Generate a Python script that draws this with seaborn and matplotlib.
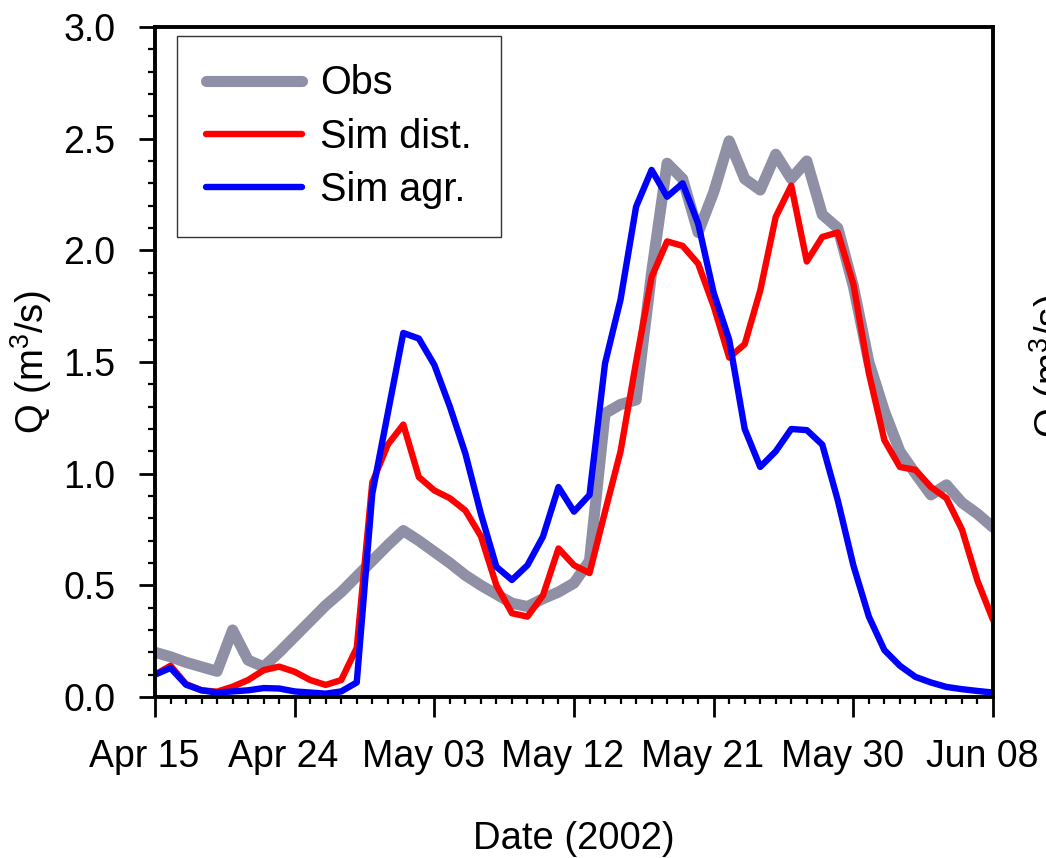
import numpy as np
import pandas as pd
import matplotlib
matplotlib.use("Agg")
import matplotlib.pyplot as plt
import matplotlib.dates as mdates
from matplotlib.ticker import MultipleLocator, FixedLocator, FormatStrFormatter
from matplotlib.transforms import ScaledTranslation
import seaborn as sns

# ---------------- data ----------------
start_date = "2002-04-15"
end_date = "2002-06-08"

obs = [0.20, 0.18, 0.155, 0.135, 0.115, 0.30, 0.165, 0.135, 0.20, 0.27,
       0.34, 0.41, 0.47, 0.54, 0.61, 0.68, 0.745, 0.70, 0.65, 0.60,
       0.545, 0.50, 0.46, 0.42, 0.405, 0.44, 0.47, 0.51, 0.61, 1.27,
       1.31, 1.33, 1.90, 2.39, 2.32, 2.08, 2.26, 2.49, 2.32, 2.27,
       2.43, 2.32, 2.40, 2.16, 2.10, 1.84, 1.50, 1.28, 1.10, 1.00,
       0.905, 0.95, 0.87, 0.82, 0.76]

sim_dist = [0.10, 0.14, 0.058, 0.03, 0.024, 0.046, 0.076, 0.12, 0.136, 0.113,
            0.076, 0.054, 0.076, 0.22, 0.96, 1.13, 1.22, 0.985, 0.925, 0.89,
            0.835, 0.72, 0.50, 0.375, 0.36, 0.455, 0.665, 0.59, 0.555, 0.83,
            1.10, 1.50, 1.88, 2.04, 2.02, 1.94, 1.75, 1.52, 1.58, 1.82,
            2.15, 2.29, 1.95, 2.06, 2.08, 1.85, 1.45, 1.15, 1.03, 1.017,
            0.94, 0.89, 0.75, 0.52, 0.345]

sim_agr = [0.10, 0.13, 0.055, 0.03, 0.02, 0.025, 0.03, 0.04, 0.038, 0.025,
           0.02, 0.015, 0.025, 0.065, 0.91, 1.27, 1.63, 1.605, 1.487, 1.30,
           1.09, 0.82, 0.583, 0.524, 0.59, 0.718, 0.94, 0.83, 0.905, 1.494,
           1.78, 2.195, 2.36, 2.24, 2.30, 2.12, 1.81, 1.60, 1.20, 1.03,
           1.10, 1.20, 1.195, 1.13, 0.88, 0.59, 0.36, 0.21, 0.14, 0.09,
           0.065, 0.045, 0.035, 0.027, 0.02]

series_names = ["Obs", "Sim dist.", "Sim agr."]
tick_dates = ["2002-04-15", "2002-04-24", "2002-05-03", "2002-05-12",
              "2002-05-21", "2002-05-30", "2002-06-08"]
tick_labels = ["Apr 15", "Apr 24", "May 03", "May 12", "May 21", "May 30", "Jun 08"]

# ---------------- style ----------------
sns.set_style("ticks")
plt.rcParams['font.family'] = ['Liberation Sans', 'DejaVu Sans']
plt.rcParams['mathtext.fontset'] = 'custom'
plt.rcParams['mathtext.rm'] = 'Liberation Sans'
plt.rcParams['mathtext.it'] = 'Liberation Sans'
plt.rcParams['text.color'] = 'black'
plt.rcParams['axes.labelcolor'] = 'black'
plt.rcParams['xtick.color'] = 'black'
plt.rcParams['ytick.color'] = 'black'

FS_TICK = 27
FS_LABEL = 27.5
FS_LEG = 28.5
colors = {"Obs": "#8f8fa6", "Sim dist.": "#ff0000", "Sim agr.": "#0000ff"}
widths = {"Obs": 8.0, "Sim dist.": 4.6, "Sim agr.": 4.6}

dates = pd.date_range(start_date, end_date, freq="D")
df = pd.DataFrame({"date": dates, "Obs": obs, "Sim dist.": sim_dist, "Sim agr.": sim_agr})

fig = plt.figure(figsize=(10.46, 8.58), dpi=100)
ax = fig.add_axes([155 / 1046, 1 - 697 / 858, (993 - 155) / 1046, (697 - 27) / 858])

for name in series_names:
    sns.lineplot(data=df, x="date", y=name, ax=ax, color=colors[name],
                 linewidth=widths[name], label=name,
                 solid_capstyle="round", solid_joinstyle="round")

ax.set_xlim(pd.Timestamp(start_date), pd.Timestamp(end_date))
ax.set_ylim(0, 3.0)

ax.xaxis.set_major_locator(FixedLocator(mdates.date2num(pd.to_datetime(tick_dates))))
ax.set_xticklabels(tick_labels)
ax.xaxis.set_minor_locator(mdates.DayLocator())
ax.yaxis.set_major_locator(MultipleLocator(0.5))
ax.yaxis.set_minor_locator(MultipleLocator(0.1))
ax.yaxis.set_major_formatter(FormatStrFormatter("%.1f"))

ax.tick_params(axis="both", which="major", direction="out", width=2.0,
               labelsize=FS_TICK, colors="black")
ax.tick_params(axis="x", which="major", length=14.5, pad=16)
ax.tick_params(axis="x", which="minor", direction="out", length=5, width=1.6)
ax.tick_params(axis="y", which="major", length=11.5, pad=17)
ax.tick_params(axis="y", which="minor", direction="out", length=5, width=1.6)

# the reference's date labels sit slightly left of their ticks
shift = ScaledTranslation(-11 / 100, 0, fig.dpi_scale_trans)
for lab in ax.get_xticklabels():
    lab.set_transform(lab.get_transform() + shift)

for side in ["left", "right", "top", "bottom"]:
    ax.spines[side].set_visible(True)
    ax.spines[side].set_linewidth(2.8)
    ax.spines[side].set_color("black")

ax.set_xlabel("Date (2002)", fontsize=FS_LABEL, labelpad=33)
ax.set_ylabel("Q (m$^3$/s)", fontsize=FS_LABEL, labelpad=7)

leg = ax.legend(loc="upper left", bbox_to_anchor=(22 / 838, 1 - 9 / 670),
                borderaxespad=0, fontsize=FS_LEG, frameon=True, fancybox=False,
                edgecolor="black", handlelength=2.45, handletextpad=0.45,
                labelspacing=0.38, borderpad=0.72)
leg.get_frame().set_linewidth(1.0)
for line in leg.get_lines():
    line.set_solid_capstyle("round")

# cut-off label of the neighbouring panel at the right edge
fig.text(1027 / 1046, 1 - 366 / 858, "Q (m$^3$/s)", rotation=90, fontsize=FS_LABEL,
         ha="left", va="center")

fig.savefig("out.png", dpi=100)
